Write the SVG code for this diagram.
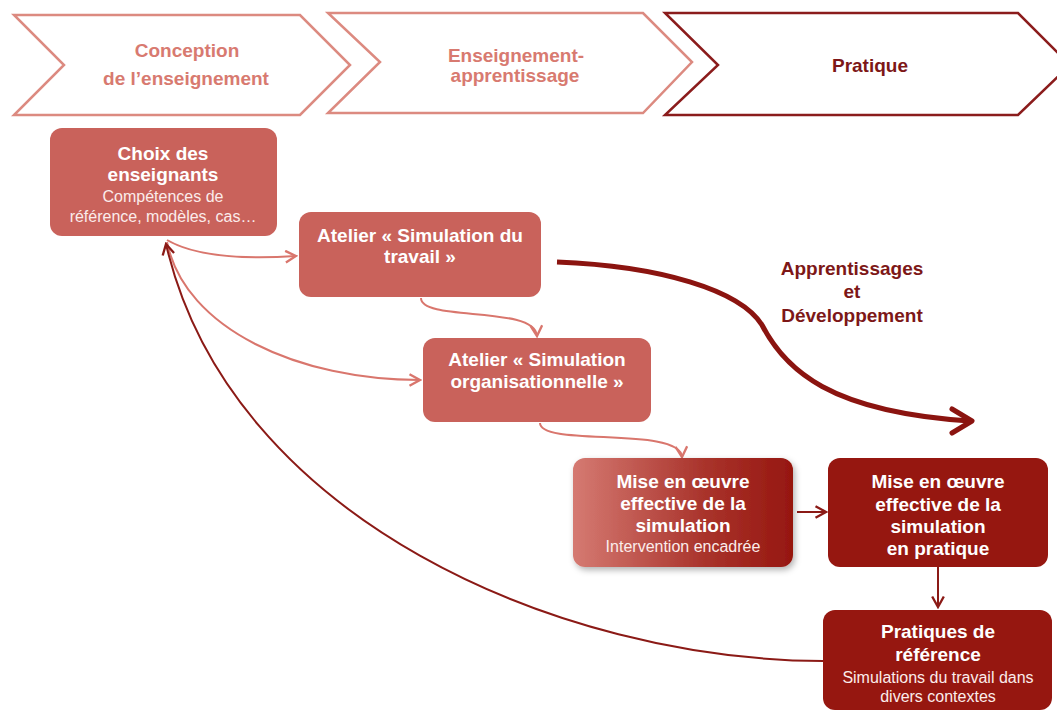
<svg xmlns="http://www.w3.org/2000/svg" width="1057" height="711" viewBox="0 0 1057 711">
<defs>
<style>
.t{font-family:"Liberation Sans",Arial,sans-serif;text-anchor:middle}
.b{font-weight:bold;font-size:19px}
.s{font-size:16px}
.w{fill:#ffffff}
.sw{fill:#fbeceb}
.lt{fill:#d87a70}
.dk{fill:#7d1717}
.box{fill:#c9625b}
.dbox{fill:#961710}
.lc{fill:none;stroke:#d9766d;stroke-width:2}
.dc{fill:none;stroke:#8b1a16;stroke-width:2}
</style>
<marker id="al" markerUnits="userSpaceOnUse" markerWidth="14" markerHeight="14" refX="10" refY="6" orient="auto" viewBox="0 0 12 12">
<path d="M1,1 L10,6 L1,11" fill="none" stroke="#d9766d" stroke-width="2"/>
</marker>
<marker id="ad" markerUnits="userSpaceOnUse" markerWidth="14" markerHeight="14" refX="10" refY="6" orient="auto" viewBox="0 0 12 12">
<path d="M1,1 L10,6 L1,11" fill="none" stroke="#8b1a16" stroke-width="2"/>
</marker>
<linearGradient id="g1" x1="0" y1="0" x2="1" y2="0">
<stop offset="0" stop-color="#d57a72"/>
<stop offset="0.6" stop-color="#a9332b"/>
<stop offset="1" stop-color="#961710"/>
</linearGradient>
<filter id="sh" x="-10%" y="-10%" width="130%" height="130%">
<feDropShadow dx="2" dy="3" stdDeviation="3" flood-color="#000" flood-opacity="0.3"/>
</filter>
</defs>
<rect width="1057" height="711" fill="#ffffff"/>

<g id="phase1">
<polygon points="14,15 300,15 350,65 300,115 14,115 64,65" fill="#fff" stroke="#dc8a80" stroke-width="2.5"/>
<text class="t b lt" x="187" y="57">Conception</text>
<text class="t b lt" x="186" y="85">de l’enseignement</text>
</g>
<g id="phase2">
<polygon points="328,13 643,13 692,62 643,113 328,113 380,62" fill="#fff" stroke="#dc8a80" stroke-width="2.5"/>
<text class="t b lt" x="516" y="62">Enseignement-</text>
<text class="t b lt" x="515" y="82">apprentissage</text>
</g>
<g id="phase3">
<polygon points="665,13 1018,13 1070,65 1018,115 665,115 718,65" fill="#fff" stroke="#8b1c1c" stroke-width="2.5"/>
<text class="t b dk" x="870" y="72">Pratique</text>
</g>

<g id="connectors">
<path class="lc" d="M167,240 Q205,262 296,256" marker-end="url(#al)"/>
<path class="lc" d="M167,242 C185,330 300,380 420,380" marker-end="url(#al)"/>
<path class="lc" d="M421,298 C421,322 535,305 537,336" marker-end="url(#al)"/>
<path class="lc" d="M540,423 C540,447 680,426 682,457" marker-end="url(#al)"/>
<path class="dc" d="M797,512 L826,512" marker-end="url(#ad)"/>
<path class="dc" d="M938,567 L938,607" marker-end="url(#ad)"/>
<path class="dc" d="M823,661 C560,660 230,520 166,244" marker-end="url(#ad)"/>
<path d="M557,262 C660,266 740,290 762,325 C785,370 830,412 970,421" fill="none" stroke="#8b1410" stroke-width="5"/>
<path d="M952,409 L972,421 L952,433" fill="none" stroke="#8b1410" stroke-width="5" stroke-linecap="round" stroke-linejoin="round"/>
<text class="t b dk" x="852" y="275">Apprentissages</text>
<text class="t b dk" x="852" y="298">et</text>
<text class="t b dk" x="852" y="322">Développement</text>
</g>

<g id="choix">
<rect class="box" x="50" y="128" width="227" height="108" rx="12"/>
<text class="t b w" x="163" y="160">Choix des</text>
<text class="t b w" x="163" y="181">enseignants</text>
<text class="t s sw" x="163" y="202">Compétences de</text>
<text class="t s sw" x="163" y="222">référence, modèles, cas…</text>
</g>
<g id="atelier1">
<rect class="box" x="299" y="212" width="242" height="85" rx="12"/>
<text class="t b w" x="420" y="242">Atelier « Simulation du</text>
<text class="t b w" x="420" y="263">travail »</text>
</g>
<g id="atelier2">
<rect class="box" x="423" y="338" width="228" height="84" rx="12"/>
<text class="t b w" x="537" y="366">Atelier « Simulation</text>
<text class="t b w" x="537" y="388">organisationnelle »</text>
</g>
<g id="mise1">
<rect x="573" y="458" width="220" height="109" rx="12" fill="url(#g1)" filter="url(#sh)"/>
<text class="t b w" x="683" y="488">Mise en œuvre</text>
<text class="t b w" x="683" y="510">effective de la</text>
<text class="t b w" x="683" y="532">simulation</text>
<text class="t s sw" x="683" y="552">Intervention encadrée</text>
</g>
<g id="mise2">
<rect class="dbox" x="828" y="458" width="220" height="109" rx="12"/>
<text class="t b w" x="938" y="488">Mise en œuvre</text>
<text class="t b w" x="938" y="511">effective de la</text>
<text class="t b w" x="938" y="533">simulation</text>
<text class="t b w" x="938" y="555">en pratique</text>
</g>
<g id="pratiques">
<rect class="dbox" x="823" y="610" width="229" height="100" rx="12"/>
<text class="t b w" x="938" y="638">Pratiques de</text>
<text class="t b w" x="938" y="661">référence</text>
<text class="t s sw" x="938" y="683">Simulations du travail dans</text>
<text class="t s sw" x="938" y="702">divers contextes</text>
</g>
</svg>
